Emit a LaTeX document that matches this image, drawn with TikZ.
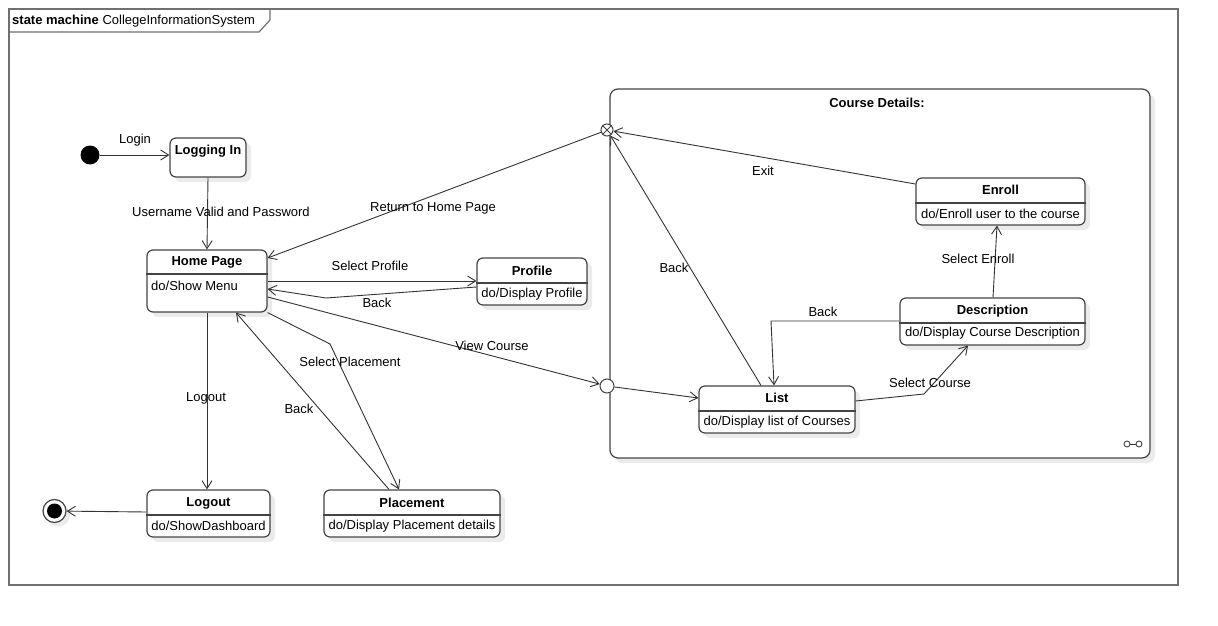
\documentclass[tikz,border=0pt]{standalone}
\usepackage{fontspec}
\setmainfont{Liberation Sans}
\usetikzlibrary{arrows.meta,shadows,calc}
\definecolor{edgecol}{HTML}{333333}
\definecolor{boxcol}{HTML}{444444}
\definecolor{framecol}{HTML}{707070}
\definecolor{shadowcol}{HTML}{EBEBEB}
\begin{document}
\begin{tikzpicture}[x=1pt,y=-1pt,
  font=\fontsize{13}{15}\selectfont,
  conn/.style={draw=edgecol, line width=0.9pt},
  arr/.style={conn, -{Straight Barb[length=8pt,width=10pt]}},
  st/.style={draw=boxcol, line width=1.2pt, rounded corners=6pt, fill=white,
    drop shadow={shadow xshift=5pt,shadow yshift=-5pt,fill=shadowcol,opacity=1},
    inner sep=0pt},
  divline/.style={draw=boxcol, line width=1.2pt},
  ttl/.style={font=\fontsize{13}{15}\selectfont\bfseries, inner sep=0pt},
  bdy/.style={inner sep=0pt},
  lbl/.style={inner sep=1pt}]
\useasboundingbox[fill=white] (0,0) rectangle (1218,626);

% frame
\node[draw=framecol, line width=1.5pt, minimum width=1169, minimum height=576, inner sep=0pt] (frame) at (593.5,297) {};
\draw[draw=framecol, line width=1.2pt] (270,9) -- (270,20) -- (259,32) -- (9,32);
\node[anchor=west, inner sep=0pt] (tabtext) at (12,21) {\textbf{state machine} CollegeInformationSystem};

% composite state
\node[st, rounded corners=8pt, minimum width=540, minimum height=369] (comp) at (880,273.5) {};
\node[ttl] (comp-t) at (877,103) {Course Details:};
\node[circle, draw=boxcol, line width=0.9pt, minimum size=6, inner sep=0pt] (lnkA) at (1127,444) {};
\node[circle, draw=boxcol, line width=0.9pt, minimum size=6, inner sep=0pt] (lnkB) at (1139,444) {};
\draw[conn] (lnkA) -- (lnkB);

% pseudostates
\node[circle, fill=black, minimum size=19, inner sep=0pt] (init) at (90,155) {};
\node[circle, draw=boxcol, line width=1.2pt, fill=white, minimum size=23, inner sep=0pt,
  drop shadow={shadow xshift=4pt,shadow yshift=-4pt,fill=shadowcol,opacity=1}] (final) at (54.5,511) {};
\node[circle, fill=black, minimum size=15, inner sep=0pt] (finalin) at (final) {};
\node[circle, draw=boxcol, line width=1pt, fill=white, minimum size=12, inner sep=0pt] (exitp) at (607,130) {};
\draw[draw=boxcol, line width=0.9pt] (exitp.north west) -- (exitp.south east) (exitp.north east) -- (exitp.south west);
\node[circle, draw=boxcol, line width=1pt, fill=white, minimum size=14, inner sep=0pt] (entry) at (607,386) {};

% states
\node[st, minimum width=76, minimum height=39] (login) at (208,157.5) {};
\node[ttl] (login-t) at (208,151) {Logging In};

\node[st, minimum width=120, minimum height=62] (home) at (207,281) {};
\draw[divline] (home.west |- 0,274) -- (home.east |- 0,274);
\node[ttl] (home-t) at (207,262) {Home Page};
\node[bdy, anchor=west] (home-b) at (151,286) {do/Show Menu};

\node[st, minimum width=110, minimum height=47] (profile) at (532,281.5) {};
\draw[divline] (profile.west |- 0,283) -- (profile.east |- 0,283);
\node[ttl] (profile-t) at (532,271) {Profile};
\node[bdy] (profile-b) at (532,294) {do/Display Profile};

\node[st, minimum width=123, minimum height=47] (logout) at (208.5,513.5) {};
\draw[divline] (logout.west |- 0,515) -- (logout.east |- 0,515);
\node[ttl] (logout-t) at (208.5,503) {Logout};
\node[bdy] (logout-b) at (208.5,526) {do/ShowDashboard};

\node[st, minimum width=176, minimum height=47] (placement) at (412,513.5) {};
\draw[divline] (placement.west |- 0,515) -- (placement.east |- 0,515);
\node[ttl] (placement-t) at (412,503) {Placement};
\node[bdy] (placement-b) at (412,526) {do/Display Placement details};

\node[st, minimum width=169, minimum height=47] (enroll) at (1000.5,201.5) {};
\draw[divline] (enroll.west |- 0,203) -- (enroll.east |- 0,203);
\node[ttl] (enroll-t) at (1000.5,190) {Enroll};
\node[bdy] (enroll-b) at (1000.5,214) {do/Enroll user to the course};

\node[st, minimum width=185, minimum height=47] (desc) at (992.5,321.5) {};
\draw[divline] (desc.west |- 0,323) -- (desc.east |- 0,323);
\node[ttl] (desc-t) at (992.5,311) {Description};
\node[bdy] (desc-b) at (992.5,333) {do/Display Course Description};

\node[st, minimum width=156, minimum height=47] (list) at (777,409.5) {};
\draw[divline] (list.west |- 0,411) -- (list.east |- 0,411);
\node[ttl] (list-t) at (777,398) {List};
\node[bdy] (list-b) at (777,422) {do/Display list of Courses};

% transitions
\draw[arr] (init) -- (login.west |- init);
\node[lbl] (l-login) at (135,140) {Login};

\draw[arr] (login.south) -- (home.north);
\node[lbl] (l-user) at (221,212) {Username Valid and Password};

\draw[arr] (home.east |- 0,281) -- (profile.west |- 0,281);
\node[lbl] (l-selprof) at (370,266) {Select Profile};

\draw[arr] (profile.west |- 0,287) -- (326,298) -- (home.east |- 0,289);
\node[lbl] (l-back1) at (377,303) {Back};

\draw[arr] (home.east |- 0,297) -- (entry);
\node[lbl] (l-view) at (492,346) {View Course};

\draw[arr] (exitp) -- (home.east |- 0,258);
\node[lbl] (l-return) at (433,208) {Return to Home Page};

\draw[arr] (home.south east) -- (330,344) -- (placement.north -| 399,0);
\node[lbl] (l-selplac) at (350,362) {Select Placement};

\draw[arr] (placement.north -| 389,0) -- (home.south -| 236,0);
\node[lbl] (l-back2) at (299,409) {Back};

\draw[arr] (home.south -| 207,0) -- (logout.north -| 207,0);
\node[lbl] (l-logout) at (206,398) {Logout};

\draw[arr] (logout.west |- 0,512) -- (final);

\draw[arr] (entry) -- (list.west |- 0,398);

\draw[arr] (list.east |- 0,401) -- (924,394) -- (desc.south -| 968,0);
\node[lbl] (l-selcourse) at (930,383) {Select Course};

\draw[arr] (desc.west |- 0,321) -- (771,321) -- (list.north -| 774,0);
\node[lbl] (l-back3) at (823,312) {Back};

\draw[arr] (desc.north -| 993,0) -- (enroll.south -| 997,0);
\node[lbl] (l-selenroll) at (978,259) {Select Enroll};

\draw[arr] (enroll.west |- 0,184) -- (exitp);
\node[lbl] (l-exit) at (763,171) {Exit};

\draw[arr] (list.north -| 761,0) -- (exitp);
\node[lbl] (l-back4) at (674,268) {Back};
\end{tikzpicture}
\end{document}
